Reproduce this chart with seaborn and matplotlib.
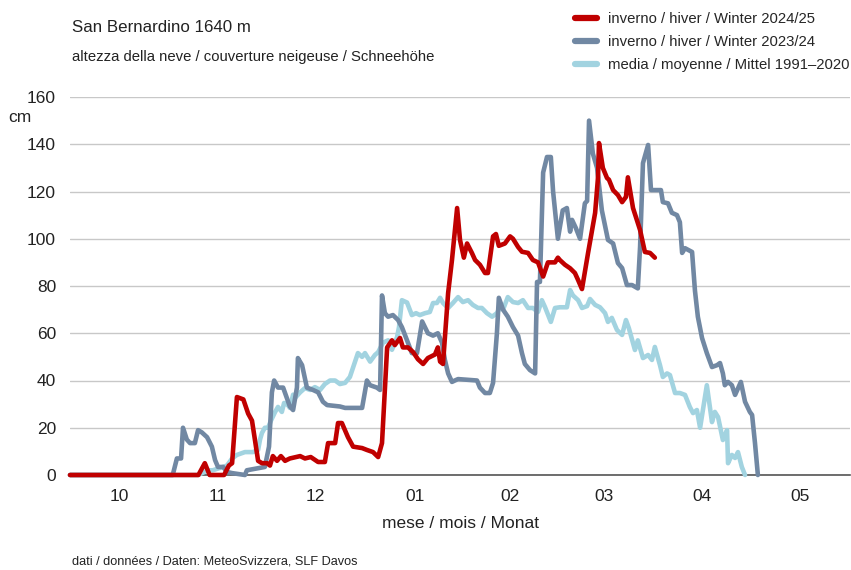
import matplotlib
matplotlib.use("Agg")
import matplotlib.pyplot as plt
import pandas as pd
import seaborn as sns
from matplotlib.lines import Line2D

# days counted from 1 October, snow depth in cm
red_days = [0, 40, 42, 43.5, 48, 49.5, 50.5, 52, 54, 55.5, 56.7, 57.6, 58.6, 59.8, 61.4, 62.3,
            63.2, 64.5, 65.7, 67, 68.5, 71.7, 73.2, 75, 77.3, 79.4, 80.4, 82.6, 83.5, 84.7, 86.6,
            88.2, 91, 92.5, 94.4, 96, 97.2, 98.8, 100.3, 101.2, 102.8, 103.7, 105.3, 106.9, 108.4,
            110, 111.5, 113.7, 114.6, 115.3, 116.2, 117.8, 119, 120.6, 121.5, 122.7, 123.7, 125.2,
            126.2, 127.7, 129.3, 130.2, 131.8, 132.7, 133.6, 135.5, 137.1, 138, 139.6, 140.8,
            142.7, 144.2, 145.8, 147.4, 148.9, 151.1, 152, 152.6, 154.2, 155.8, 157.3, 158.3,
            159.5, 161.4, 163.6, 164.5, 164.8, 166, 167.3, 167.9, 169.2, 170.7, 172, 173.2, 173.8,
            175.4, 177.6, 179.1, 180.7, 182.2]
red_cm = [0, 0, 5, 0, 0, 4, 5, 33, 32, 26, 23, 15, 6, 5, 5, 4,
          8, 6, 8, 6, 7, 8, 7, 7.6, 5.5, 5.5, 13.5, 13.5, 22, 22, 16,
          12, 11.4, 10.6, 9.7, 7.6, 13.5, 54, 57, 55, 58, 54, 54, 52, 49,
          47, 49.5, 51, 54, 48, 47, 77, 91, 113, 99.5, 92, 98, 94,
          91, 89, 85.5, 85.5, 101, 102, 97, 98, 101, 100, 96.5, 94.5,
          94, 91, 90, 84, 90, 90, 92, 91, 89, 87.5, 85.5, 82.5,
          78.7, 94, 111, 126, 140.5, 130, 125.7, 125, 120.6, 118.5, 115.5, 117.7, 126,
          113, 103.7, 94.4, 94, 92]

grey_days = [0, 32, 33.3, 34.6, 35.2, 36.4, 37.4, 38.9, 39.9, 41.1, 42.7, 44.2, 45.2, 46.1, 47.7,
             48.9, 50.5, 54.5, 55.1, 59.2, 60.7, 62, 62.9, 63.6, 64.8, 66.4, 68.5, 69.5, 70.7, 71,
             72.3, 73.8, 75.7, 77.3, 78.8, 80.1, 84.1, 85.7, 91, 92.5, 93.5, 95.6, 96.6, 97.2,
             98.1, 99.1, 100.6, 102.2, 103.4, 105, 106.5, 108.1, 109.7, 111.5, 113.1, 114.6,
             115.9, 116.8, 117.8, 119, 119.9, 120.9, 126.8, 127.7, 129.3, 130.8, 131.8, 133,
             133.6, 134.9, 136.4, 138, 139.6, 140.8, 141.7, 143.3, 144.9, 145.5, 146.4, 147.4,
             148.6, 149.8, 150.5, 152, 153.5, 154.8, 155.8, 156.4, 157.6, 158.9, 160.4, 161.1,
             161.7, 162.9, 164.2, 165.7, 167.6, 169.2, 170.7, 172, 173.5, 175.1, 176.9, 177.6,
             178.5, 180.1, 181, 184.1, 184.7, 186.3, 187.5, 189.1, 190, 190.7, 191.6, 193.8,
             194.7, 195.6, 196.9, 198.4, 200, 201.6, 202.5, 203.4, 204, 205, 206.2, 207.2, 209,
             210.3, 211.8, 212.5, 213.4, 214.3]
grey_cm = [0, 0, 7, 7, 20, 15, 13.5, 13.5, 19, 18, 16, 12, 6.3, 3.4, 3.4,
           1.3, 0.8, 0, 2, 3, 3.4, 12, 35, 40, 37, 37, 29, 27.5, 37, 49.5,
           46.5, 37, 36, 35, 31, 29.6, 29, 28.4, 28.4, 40, 38, 37, 36, 76,
           68.5, 67, 67.7, 65.6, 62.6, 57, 51.6, 51.6, 65, 60, 59, 60,
           56, 48.7, 43, 39.4, 40, 40.6, 40, 37, 34.7, 34.7, 39, 60,
           75, 70, 67, 62.6, 59, 51.6, 47, 44.4, 43, 81.7, 81.7, 128,
           134.6, 134.6, 120, 100, 112, 113, 103, 108, 104.5, 100, 115, 116,
           150, 136, 130, 112, 99.5, 98, 89.7, 87.6, 80.4, 80.4, 79, 96.5,
           132, 139.7, 120.6, 120.6, 115.5, 115, 111, 110, 107, 94, 96, 94.4,
           78, 67, 58, 51.6, 45.7, 46.5, 47.4, 43, 38, 39.4, 38, 33.9, 39.4,
           31, 26.7, 25.4, 13.5, 0]

mean_days = [0, 39.9, 43, 44.5, 46.7, 48.9, 50.5, 52, 54.5, 57, 58.6, 59.2, 59.8, 60.7, 61.7,
             62.6, 63.9, 64.8, 66, 66.7, 67.9, 68.5, 69.5, 70.1, 71.7, 73.2, 74.8, 76.3, 77.9,
             79.4, 81, 82.6, 84.1, 85.7, 87.2, 88.8, 89.7, 91, 91.9, 93.5, 95, 96, 97.5, 99.1,
             100.3, 101.9, 102.5, 103.4, 105, 106.5, 107.8, 109, 110.6, 112.1, 113.1, 114.3,
             115.3, 116.2, 117.8, 119.3, 120.9, 122.4, 124, 125.5, 127.1, 128.3, 129.9, 131.5,
             133, 134, 134.9, 136.4, 138, 139.6, 141.1, 142.7, 144.2, 145.8, 147, 148, 149.8,
             151.1, 152.6, 154.8, 155.8, 156.7, 158.3, 159.5, 161.1, 162, 163.6, 165.1, 166.7,
             167.6, 168.8, 170.4, 172, 173.2, 174.1, 176, 176.9, 178.5, 180.1, 181.3, 182.2,
             183.8, 184.7, 186, 186.9, 188.5, 190, 191.6, 193.1, 194.1, 195.3, 196.3, 198.4,
             200, 200.9, 201.9, 203.4, 204.7, 205, 206.2, 207.2, 208.1, 209.3, 210.3]
mean_cm = [0, 0, 2, 2, 3, 4, 7, 8.5, 9.7, 9.7, 10.6, 15, 17.8, 20, 20,
           23, 26.7, 28.8, 26.7, 30.5, 29.6, 28.4, 34, 32.6, 35, 36.8, 36, 37.2, 36,
           38.5, 40, 40, 38.5, 39, 41.5, 48, 51.6, 50, 51.6, 48, 50.8, 52, 56, 57,
           53, 58.4, 62.6, 74, 73, 67.7, 68.5, 67.7, 68.5, 69, 72.8, 72.8,
           75, 72.8, 70.7, 72.8, 75.3, 73.2, 74, 72, 70.7, 70.7, 68.5, 67,
           68.5, 71, 70, 75.3, 73.2, 72.8, 74, 70.7, 70.7, 69, 74, 71, 64.8,
           70.7, 71, 71, 78.3, 76, 74, 70.7, 71.5, 74.5, 72, 71, 68.5,
           64.8, 66.5, 61.4, 59.3, 65.6, 62.2, 52.9, 57, 49.5, 50.8, 48.7, 54.2,
           46.5, 41.5, 43, 42.3, 34.7, 34.7, 33.9, 28.8, 26.2, 27.5, 20, 38,
           22.4, 26.7, 24.5, 14.8, 19, 5, 8.5, 7.2, 9.7, 3.4, 0]

month_edges = [0, 31, 61, 92, 123, 151, 182, 212, 243]
month_labels = ["10", "11", "12", "01", "02", "03", "04", "05"]

series_labels = [
    "inverno / hiver / Winter 2024/25",
    "inverno / hiver / Winter 2023/24",
    "media / moyenne / Mittel 1991\u20132020",
]
colors = ["#C00000", "#7188A3", "#A2D3E0"]

sns.set_style("white")
plt.rcParams["font.family"] = ["Liberation Sans", "DejaVu Sans"]

fig = plt.figure(figsize=(8.51, 5.70), dpi=100)
ax = fig.add_axes([70 / 851, 1 - 475 / 570, 780 / 851, 378 / 570])

frames = [
    (pd.DataFrame({"day": mean_days, "cm": mean_cm}), colors[2]),
    (pd.DataFrame({"day": grey_days, "cm": grey_cm}), colors[1]),
    (pd.DataFrame({"day": red_days, "cm": red_cm}), colors[0]),
]
for df, c in frames:
    sns.lineplot(data=df, x="day", y="cm", ax=ax, color=c, linewidth=3.3,
                 estimator=None, sort=False, clip_on=False, zorder=3)

ax.set_xlim(0, 243)
ax.set_ylim(0, 160)
ax.set_yticks(range(0, 161, 20))
ax.yaxis.grid(True, color="#C8C8C8", linewidth=1.0)
ax.set_axisbelow(True)
ax.tick_params(axis="y", length=0, pad=10, labelsize=12.5, labelcolor="#222222")

ax.set_xticks(month_edges)
ax.set_xticklabels([])
mids = [(a + b) / 2 for a, b in zip(month_edges[:-1], month_edges[1:])]
ax.set_xticks(mids, minor=True)
ax.set_xticklabels(month_labels, minor=True)
ax.tick_params(axis="x", which="major", length=6, width=1, color="#555555", direction="out")
ax.tick_params(axis="x", which="minor", length=0, pad=10, labelsize=12.5, labelcolor="#222222")

for side in ["top", "right", "left"]:
    ax.spines[side].set_visible(False)
ax.spines["bottom"].set_color("#555555")
ax.spines["bottom"].set_linewidth(1.2)

ax.set_xlabel("mese / mois / Monat", fontsize=12.5, labelpad=9, color="#222222")
ax.set_ylabel("")

fig.text(8 / 851, 1 - 117 / 570, "cm", fontsize=12.5, va="center", ha="left", color="#222222")
fig.text(72 / 851, 1 - 27 / 570, "San Bernardino 1640 m", fontsize=12.2, va="center", color="#222222")
fig.text(72 / 851, 1 - 57 / 570, "altezza della neve / couverture neigeuse / Schneehöhe",
         fontsize=10.7, va="center", color="#222222")
fig.text(72 / 851, 1 - 561 / 570, "dati / données / Daten: MeteoSvizzera, SLF Davos",
         fontsize=9.2, va="center", color="#222222")

handles = [Line2D([0], [0], color=c, linewidth=4.5) for c in colors]
fig.legend(handles, series_labels, loc="upper left", bbox_to_anchor=(575 / 851, 1 - 12 / 570),
           frameon=False, fontsize=10.7, handlelength=1.45, handletextpad=0.75,
           labelspacing=0.6, borderpad=0, borderaxespad=0)

fig.savefig("out.png", dpi=100)
